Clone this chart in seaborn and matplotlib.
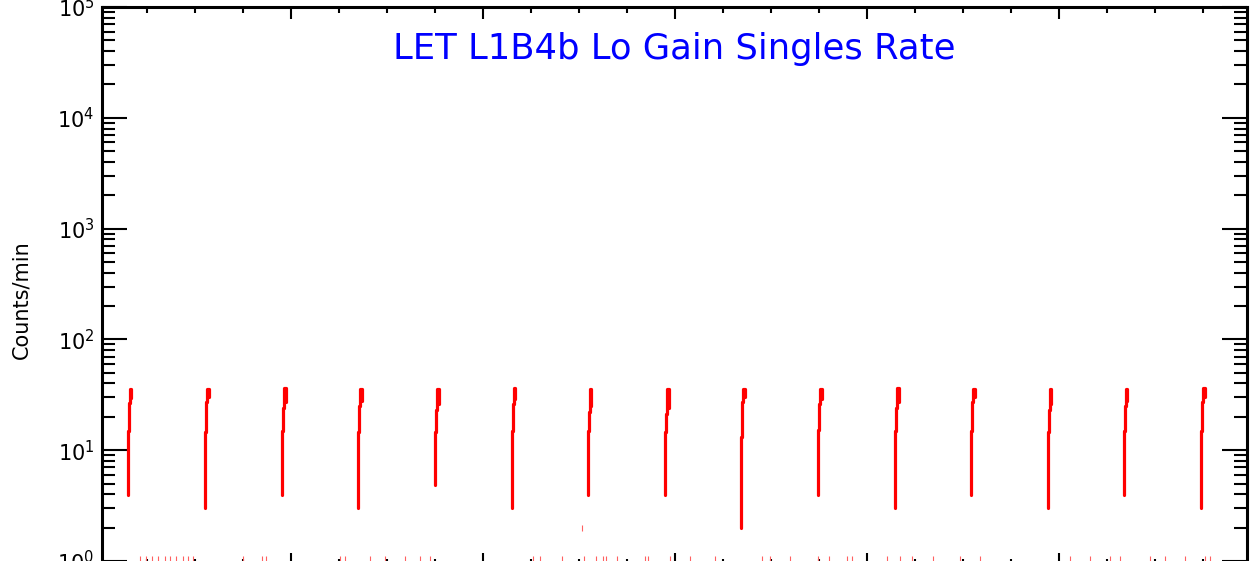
import pandas as pd
import seaborn as sns
import matplotlib.pyplot as plt
import numpy as np
from matplotlib.ticker import MultipleLocator, LogLocator, NullFormatter


sns.set_style("ticks")
plt.rcParams['font.family'] = ['DejaVu Sans']
plt.rcParams['mathtext.fontset'] = 'dejavusans'

# spike onsets (hours) and the count levels of each step of the ramp
spike_start = [3.6, 13.25, 22.9, 32.4, 42.0, 51.6, 61.1, 70.75, 80.25,
               89.9, 99.5, 109.0, 118.6, 128.1, 137.75]
spike_low = [3.9, 3.0, 3.9, 3.0, 4.9, 3.0, 3.9, 3.9, 2.0,
             3.9, 3.0, 3.9, 3.0, 3.9, 3.0]
spike_mid = [14.9, 14.5, 14.9, 14.5, 14.5, 14.9, 14.9, 14.5, 13.1,
             15.2, 14.9, 14.9, 14.5, 14.9, 14.9]
spike_upper = [26.7, 27.0, 24.0, 25.0, 23.0, 26.0, 22.0, 21.0, 27.0,
               26.0, 24.0, 27.0, 23.0, 25.0, 27.0]
spike_top = [36.0, 36.0, 36.5, 36.0, 36.0, 36.5, 36.0, 36.0, 36.0,
             36.0, 36.5, 36.0, 36.0, 36.0, 36.5]
# time offsets (hours) of the ramp points within a spike
ramp_dt = [0.0, 0.0, 0.12, 0.12, 0.25, 0.25, 0.45, 0.45]

# near-floor samples (about 1 count/min) between spikes
floor_t = [5.1, 5.9, 6.6, 7.4, 8.25, 8.9, 9.6, 10.5, 11.1, 11.75, 18.0,
           20.4, 20.9, 30.1, 30.75, 33.9, 35.75, 38.25, 40.1, 41.4, 54.25,
           55.1, 57.9, 60.6, 62.1, 63.0, 63.4, 64.75, 68.25, 68.6, 71.4,
           73.9, 77.0, 82.9, 83.9, 86.4, 89.9, 91.25, 93.5, 94.1, 98.5,
           100.1, 101.6, 104.25, 107.6, 110.1, 121.4, 123.9, 126.4, 127.6,
           131.4, 133.25, 135.75, 138.25, 138.9]
floor_val = [1.04] * len(floor_t)
stray_t = [60.4]
stray_val = [2.0]

rows = []
for i, t0 in enumerate(spike_start):
    vals = [spike_low[i], spike_mid[i], spike_mid[i], spike_upper[i],
            spike_upper[i], spike_top[i], spike_top[i], spike_upper[i] + 3]
    for dt, v in zip(ramp_dt, vals):
        rows.append({"time": t0 + dt, "rate": v, "spike": i})
spikes = pd.DataFrame(rows)
floor = pd.DataFrame({"time": floor_t + stray_t, "rate": floor_val + stray_val})

fig = plt.figure(figsize=(12.52, 5.61), dpi=100)
ax = fig.add_axes([101.5 / 1252, -4 / 561, 1145.5 / 1252, 558 / 561])

sns.lineplot(data=spikes, x="time", y="rate", units="spike", estimator=None,
             sort=False, color="red", linewidth=2.3, ax=ax)
sns.scatterplot(data=floor, x="time", y="rate", marker="|", s=14,
                color="#ff6060", linewidth=0.8, ax=ax)

ax.set_yscale("log")
ax.set_ylim(0.92, 1e5)
ax.set_xlim(0.31, 143.5)

ax.xaxis.set_major_locator(MultipleLocator(24))
ax.xaxis.set_minor_locator(MultipleLocator(6))
ax.xaxis.set_major_formatter(NullFormatter())
ax.yaxis.set_major_locator(LogLocator(base=10, numticks=10))
ax.yaxis.set_minor_locator(LogLocator(base=10, subs=np.arange(2, 10), numticks=10))
ax.yaxis.set_minor_formatter(NullFormatter())

ax.tick_params(axis="both", which="both", direction="in", top=True,
               right=True, color="black", labelcolor="black", width=1.5)
ax.tick_params(axis="y", which="major", length=18, labelsize=15, pad=5)
ax.tick_params(axis="y", which="minor", length=9.4)
ax.tick_params(axis="x", which="major", length=8.6)
ax.tick_params(axis="x", which="minor", length=4.3)
for s in ax.spines.values():
    s.set_linewidth(2.2)
    s.set_color("black")

ax.set_xlabel("")
ax.set_ylabel("Counts/min", fontsize=15, color="black")
ax.yaxis.set_label_coords(-0.0615, 0.476)
ax.text(0.5, 0.925, "LET L1B4b Lo Gain Singles Rate", transform=ax.transAxes,
        ha="center", va="center", color="blue", fontsize=25.5)

fig.savefig("out.png", dpi=100)
